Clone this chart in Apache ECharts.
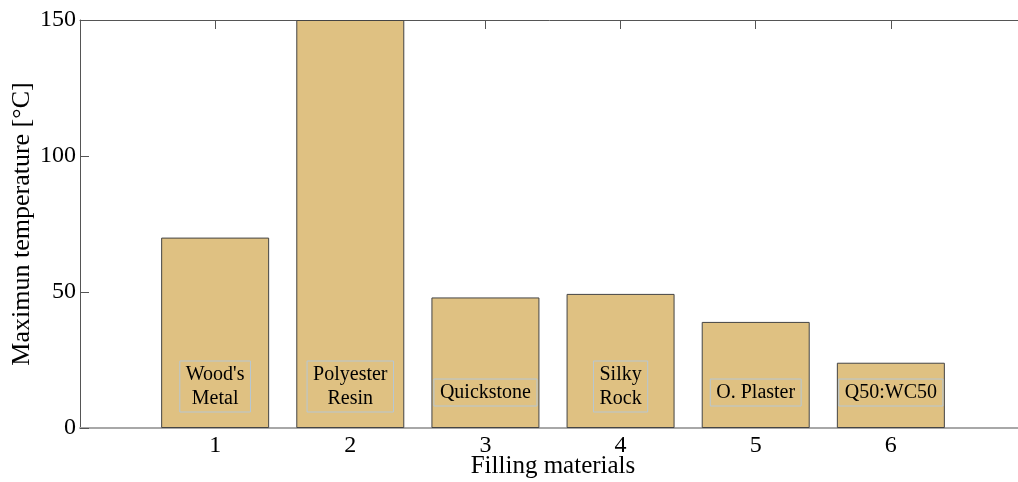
<!DOCTYPE html>
<html>
<head>
<meta charset="utf-8">
<script src="https://cdn.jsdelivr.net/npm/echarts@6/dist/echarts.min.js"></script>
<style>
  html, body { margin: 0; padding: 0; background: #fff; }
  #main { width: 1018px; height: 482px; }
</style>
</head>
<body>
<div id="main"></div>
<script>
// data
var positions = [1, 2, 3, 4, 5, 6];
var maxTemps = [70, 150, 48, 49.3, 39, 24];
var materials = ["Wood's\nMetal", 'Polyester\nResin', 'Quickstone', 'Silky\nRock', 'O. Plaster', 'Q50:WC50'];
var yTicks = [0, 50, 100, 150];

var myChart = echarts.init(document.getElementById('main'));
var serif = '"Liberation Serif", "Times New Roman", serif';

// two-line labels sit a bit lower in their bar than one-line ones
var barData = positions.map(function (p, i) {
	var twoLines = materials[i].indexOf('\n') >= 0;
	return {
		value: [p, maxTemps[i]],
		label: { distance: twoLines ? 16 : 22 }
	};
});

var option = {
	animation: false,
	grid: {
		left: 80,
		right: -8,
		top: 20,
		bottom: 54,
		outerBoundsMode: 'none'
	},
	xAxis: [{
		type: 'value',
		min: 0,
		max: 7,
		interval: 1,
		position: 'bottom',
		name: 'Filling materials',
		nameLocation: 'middle',
		nameGap: 26,
		nameMoveOverlap: false,
		nameTextStyle: { fontFamily: serif, fontSize: 25, color: '#000', verticalAlign: 'top' },
		axisLine: { lineStyle: { color: '#a8a8a8', width: 2 } },
		axisTick: { show: false },
		splitLine: { show: false },
		axisLabel: {
			fontFamily: serif,
			fontSize: 24,
			color: '#000',
			margin: 6,
			formatter: function (v) {
				return positions.indexOf(v) >= 0 ? String(v) : '';
			}
		}
	}, {
		type: 'value',
		min: 0,
		max: 7,
		interval: 1,
		position: 'top',
		axisLine: { lineStyle: { color: '#555', width: 1 } },
		axisTick: { inside: true, length: 9, lineStyle: { color: '#555' } },
		axisLabel: { show: false },
		splitLine: { show: false }
	}],
	yAxis: {
		type: 'value',
		min: yTicks[0],
		max: yTicks[yTicks.length - 1],
		interval: 50,
		name: 'Maximun temperature [°C]',
		nameLocation: 'middle',
		nameGap: 45,
		nameMoveOverlap: false,
		nameTextStyle: { fontFamily: serif, fontSize: 26, color: '#000' },
		axisLine: { show: true, lineStyle: { color: '#555', width: 1 } },
		axisTick: { show: true, inside: true, length: 9, lineStyle: { color: '#555' } },
		splitLine: { show: false },
		axisLabel: { fontFamily: serif, fontSize: 24, color: '#000', margin: 4 }
	},
	series: [{
		type: 'bar',
		xAxisIndex: 0,
		barWidth: 108,
		data: barData,
		itemStyle: {
			color: '#dfc182',
			borderColor: '#444',
			borderWidth: 1
		},
		label: {
			show: true,
			position: 'insideBottom',
			formatter: function (p) {
				return materials[p.dataIndex];
			},
			fontFamily: serif,
			fontSize: 20,
			lineHeight: 24,
			color: '#000',
			borderColor: '#b7c7d3',
			borderWidth: 1,
			padding: [2, 6, 1, 6]
		}
	}]
};

myChart.setOption(option);
</script>
</body>
</html>
